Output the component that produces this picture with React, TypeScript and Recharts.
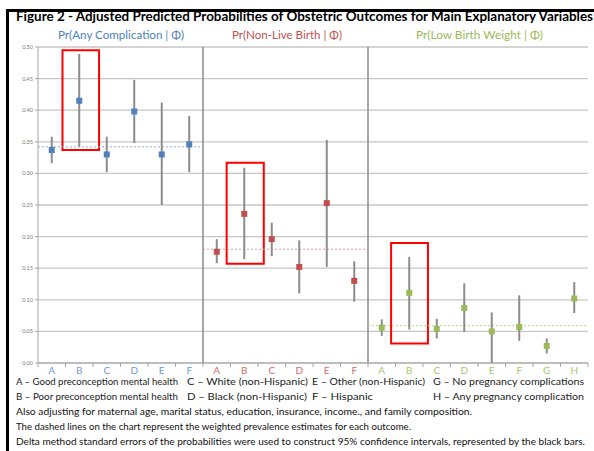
import React from 'react';
import {
  ComposedChart,
  Scatter,
  ErrorBar,
  XAxis,
  YAxis,
  CartesianGrid,
  ReferenceLine,
  ReferenceArea,
} from 'recharts';

// Pr(Any Complication | Φ)
const anyCats = ['A', 'B', 'C', 'D', 'E', 'F'];
const anyVal = [0.337, 0.415, 0.33, 0.398, 0.33, 0.346];
const anyLo = [0.316, 0.342, 0.302, 0.348, 0.25, 0.302];
const anyHi = [0.358, 0.489, 0.358, 0.448, 0.412, 0.391];
const anyPrev = 0.342;

// Pr(Non-Live Birth | Φ)
const nlbCats = ['A', 'B', 'C', 'D', 'E', 'F'];
const nlbVal = [0.176, 0.236, 0.196, 0.152, 0.253, 0.13];
const nlbLo = [0.158, 0.164, 0.169, 0.11, 0.152, 0.097];
const nlbHi = [0.196, 0.309, 0.222, 0.194, 0.353, 0.161];
const nlbPrev = 0.18;

// Pr(Low Birth Weight | Φ)
const lbwCats = ['A', 'B', 'C', 'D', 'E', 'F', 'G', 'H'];
const lbwVal = [0.056, 0.111, 0.054, 0.087, 0.05, 0.057, 0.027, 0.102];
const lbwLo = [0.043, 0.053, 0.039, 0.049, 0.0, 0.035, 0.015, 0.079];
const lbwHi = [0.069, 0.168, 0.07, 0.126, 0.08, 0.107, 0.039, 0.128];
const lbwPrev = 0.059;

const yTicks = [0, 0.05, 0.1, 0.15, 0.2, 0.25, 0.3, 0.35, 0.4, 0.45, 0.5];

const groups = [
  { title: 'Pr(Any Complication | \u03A6)', cats: anyCats, val: anyVal, lo: anyLo, hi: anyHi, prev: anyPrev, color: '#4f81bd', label: '#6e9bd2', dash: '#8fb1dc' },
  { title: 'Pr(Non-Live Birth | \u03A6)', cats: nlbCats, val: nlbVal, lo: nlbLo, hi: nlbHi, prev: nlbPrev, color: '#c0504d', label: '#d46c69', dash: '#e39a98' },
  { title: 'Pr(Low Birth Weight | \u03A6)', cats: lbwCats, val: lbwVal, lo: lbwLo, hi: lbwHi, prev: lbwPrev, color: '#9bbb59', label: '#a6c66a', dash: '#bcd38a' },
];

// red boxes around the "B" estimates, in axis units
const highlights = [
  { x1: 0.39, x2: 1.72, y1: 0.337, y2: 0.495 },
  { x1: 6.36, x2: 7.71, y1: 0.157, y2: 0.317 },
  { x1: 12.34, x2: 13.68, y1: 0.031, y2: 0.19 },
];

let start = 0;
const series = groups.map((g) => {
  const s = start;
  start += g.cats.length;
  return {
    ...g,
    start: s,
    end: start,
    data: g.cats.map((c, i) => ({
      x: s + i,
      y: g.val[i],
      err: [g.val[i] - g.lo[i], g.hi[i] - g.val[i]],
      cat: c,
    })),
  };
});
const total = start;
// category centres (integers) and boundaries (halves) share one axis
const xTicks = Array.from({ length: 2 * total + 1 }, (_, i) => i / 2 - 0.5);

const groupOf = (i: number) => series.find((s) => i >= s.start && i < s.end) || series[0];

const CatTick = (props: any) => {
  const { x, y, payload } = props;
  const v = payload.value;
  if (!Number.isInteger(v)) {
    return <line x1={x} x2={x} y1={y} y2={y + 4} stroke="#a6a6a6" strokeWidth={1} />;
  }
  const g = groupOf(v);
  return (
    <text x={x} y={y + 4} dy="0.71em" textAnchor="middle" fill={g.label} fontSize={10} fontFamily="Lato, sans-serif">
      {g.cats[v - g.start]}
    </text>
  );
};

const square = (color: string) => (props: any) => (
  <rect x={props.cx - 3} y={props.cy - 3} width={6} height={6} fill={color} />
);

const legendRows = [
  [
    { t: 'A \u2013 Good preconception mental health', x: 16, w: 162 },
    { t: 'C \u2013 White (non-Hispanic)', x: 187, w: 121 },
    { t: 'E \u2013 Other (non-Hispanic)', x: 312, w: 113 },
    { t: 'G \u2013 No pregnancy complications', x: 433, w: 151 },
  ],
  [
    { t: 'B \u2013 Poor preconception mental health', x: 16, w: 162 },
    { t: 'D \u2013 Black (non-Hispanic)', x: 187, w: 120 },
    { t: 'F \u2013 Hispanic', x: 312, w: 61 },
    { t: 'H \u2013 Any pregnancy complication', x: 433, w: 151 },
  ],
];

const notes = [
  { t: 'Also adjusting for maternal age, marital status, education, insurance, income., and family composition.', w: 456 },
  { t: 'The dashed lines on the chart represent the weighted prevalence estimates for each outcome.', w: 395 },
  { t: 'Delta method standard errors of the probabilities were used to construct 95% confidence intervals,  represented by the black bars.', w: 569 },
];

const subtitlePos = [
  { x: 58, w: 126 },
  { x: 232, w: 110 },
  { x: 416, w: 127 },
];

export default function App() {
  return (
    <div style={{ position: 'absolute', left: 0, top: 0, width: 594, height: 451, background: '#fff', overflow: 'hidden' }}>
      <div style={{ position: 'absolute', left: 6, top: 9, width: 3, height: 442, background: '#000' }} />
      <div style={{ position: 'absolute', left: 6, top: 9, width: 588, height: 2.5, background: '#000' }} />

      <div style={{ position: 'absolute', left: 0, top: 0 }}>
        <ComposedChart width={594} height={384} margin={{ top: 47, right: 6, left: 8, bottom: 0 }}>
          <CartesianGrid vertical={false} stroke="#c6c6c6" strokeWidth={1.3} />
          <XAxis
            dataKey="x"
            type="number"
            domain={[-0.5, total - 0.5]}
            ticks={xTicks}
            interval={0}
            tick={<CatTick />}
            tickSize={0}
            tickMargin={0}
            tickLine={false}
            height={21}
            axisLine={{ stroke: '#a6a6a6' }}
          />
          <YAxis
            dataKey="y"
            type="number"
            domain={[0, 0.5]}
            ticks={yTicks}
            interval={0}
            width={30}
            tickSize={3}
            tickFormatter={(v: number) => v.toFixed(2)}
            tick={{ fontSize: 5.5, fill: '#777', fontFamily: 'Lato, sans-serif' }}
            axisLine={{ stroke: '#a6a6a6' }}
            tickLine={{ stroke: '#a6a6a6' }}
          />
          {series.map((s, i) =>
            i > 0 ? (
              <ReferenceLine key={'sep' + i} x={s.start - 0.5} stroke="#8a8a8a" strokeWidth={1.5} />
            ) : null
          )}
          {series.map((s) => (
            <ReferenceLine
              key={'prev' + s.start}
              segment={[
                { x: s.start - 0.5, y: s.prev },
                { x: s.end - 0.5, y: s.prev },
              ]}
              stroke={s.dash}
              strokeDasharray="2 2"
              strokeWidth={1}
            />
          ))}
          {series.map((s) => (
            <Scatter key={'sc' + s.start} data={s.data} fill={s.color} shape={square(s.color)} isAnimationActive={false}>
              <ErrorBar dataKey="err" direction="y" width={0} stroke="#8c8c8c" strokeWidth={2} />
            </Scatter>
          ))}
          {highlights.map((h, i) => (
            <ReferenceArea
              key={'hl' + i}
              x1={h.x1}
              x2={h.x2}
              y1={h.y1}
              y2={h.y2}
              fill="none"
              fillOpacity={0}
              stroke="#ff0000"
              strokeWidth={2}
              ifOverflow="visible"
            />
          ))}
        </ComposedChart>
      </div>

      <svg width={594} height={451} style={{ position: 'absolute', left: 0, top: 0, pointerEvents: 'none' }}>
        <text x={16} y={21} fontSize={12.5} fontWeight="bold" fontFamily="Lato, sans-serif" fill="#000" textLength={577} lengthAdjust="spacingAndGlyphs">
          Figure 2 - Adjusted Predicted Probabilities of Obstetric Outcomes for Main Explanatory Variables
        </text>
        {groups.map((g, i) => (
          <text key={i} x={subtitlePos[i].x} y={39} fontSize={10.5} fontFamily="Lato, sans-serif" fill={g.color} textLength={subtitlePos[i].w} lengthAdjust="spacingAndGlyphs">
            {g.title}
          </text>
        ))}
        {legendRows.map((row, r) =>
          row.map((c, k) => (
            <text key={r + '-' + k} x={c.x} y={385 + r * 15} fontSize={10} fontFamily="Lato, sans-serif" fill="#222" textLength={c.w} lengthAdjust="spacingAndGlyphs">
              {c.t}
            </text>
          ))
        )}
        {notes.map((n, i) => (
          <text key={i} x={16} y={415 + i * 15} fontSize={8.5} fontFamily="Lato, sans-serif" fill="#111" textLength={n.w} lengthAdjust="spacingAndGlyphs">
            {n.t}
          </text>
        ))}
      </svg>
    </div>
  );
}
